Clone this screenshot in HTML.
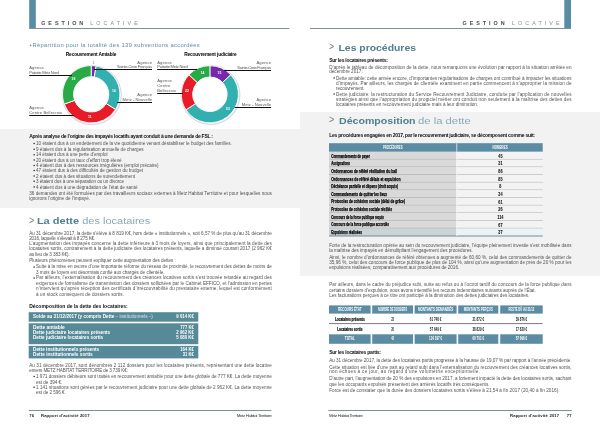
<!DOCTYPE html>
<html><head><meta charset="utf-8"><title>Gestion locative</title>
<style>
html,body{margin:0;padding:0;background:#fff;}
body{width:600px;height:424px;overflow:hidden;}
svg{display:block;will-change:transform;font-family:"Liberation Sans",sans-serif;}
</style></head>
<body>
<svg xmlns="http://www.w3.org/2000/svg" width="600" height="424" viewBox="0 0 600 424" fill="#525252">
<rect width="600" height="424" fill="#fff"/>
<rect x="0.00" y="129.00" width="300.00" height="79.00" fill="#f2f2f2"/>
<rect x="300.00" y="112.00" width="300.00" height="164.00" fill="#f2f2f2"/>
<rect x="29.20" y="0.00" width="6.60" height="28.60" fill="#588ca2"/>
<rect x="564.30" y="0.00" width="6.70" height="28.60" fill="#588ca2"/>
<line x1="29.20" y1="28.50" x2="289.40" y2="28.50" stroke="#7f9095" stroke-width="1"/>
<line x1="310.00" y1="28.50" x2="571.00" y2="28.50" stroke="#7f9095" stroke-width="1"/>
<text x="41.20" y="24.60" font-size="5.4" fill="#4a4a4a" font-weight="bold" textLength="42.00" lengthAdjust="spacing">GESTION</text>
<text x="90.20" y="24.60" font-size="5.4" fill="#8c8c8c" textLength="47.60" lengthAdjust="spacing">LOCATIVE</text>
<text x="462.60" y="24.60" font-size="5.4" fill="#4a4a4a" font-weight="bold" textLength="42.00" lengthAdjust="spacing">GESTION</text>
<text x="512.00" y="24.60" font-size="5.4" fill="#8c8c8c" textLength="47.60" lengthAdjust="spacing">LOCATIVE</text>
<circle cx="30.6" cy="45.3" r="0.85" fill="#5b8ca3"/>
<text x="32.50" y="47.20" font-size="5.8" fill="#5b8ca3" textLength="167.20" lengthAdjust="spacing">Répartition pour la totalité des 139 subventions accordées</text>
<text x="65.80" y="55.80" font-size="4.8" fill="#000" font-weight="bold" textLength="50.50" lengthAdjust="spacing">Recouvrement Amiable</text>
<text x="184.20" y="55.80" font-size="4.8" fill="#000" font-weight="bold" textLength="52.50" lengthAdjust="spacing">Recouvrement judiciaire</text>
<circle cx="91.80" cy="95.10" r="29.40" fill="none" stroke="#dcdce2" stroke-width="1.4"/>
<path d="M91.20,65.60 A28.7,28.7 0 0 1 96.18,66.04 L94.26,76.97 A17.6,17.6 0 0 0 91.20,76.70 Z" fill="#7828aa" stroke="#fff" stroke-width="0.9"/>
<path d="M96.18,66.04 A28.7,28.7 0 0 1 115.54,109.51 L106.13,103.63 A17.6,17.6 0 0 0 94.26,76.97 Z" fill="#32afaf" stroke="#fff" stroke-width="0.9"/>
<path d="M115.54,109.51 A28.7,28.7 0 0 1 64.23,104.12 L74.66,100.32 A17.6,17.6 0 0 0 106.13,103.63 Z" fill="#e81c28" stroke="#fff" stroke-width="0.9"/>
<path d="M64.23,104.12 A28.7,28.7 0 0 1 91.20,65.60 L91.20,76.70 A17.6,17.6 0 0 0 74.66,100.32 Z" fill="#28aa46" stroke="#fff" stroke-width="0.9"/>
<circle cx="91.20" cy="94.30" r="17.40" fill="#fff" stroke="#ececf0" stroke-width="0.6"/>
<circle cx="210.50" cy="95.10" r="29.30" fill="none" stroke="#dcdce2" stroke-width="1.4"/>
<path d="M209.90,65.70 A28.6,28.6 0 0 1 230.82,74.79 L222.48,82.57 A17.2,17.2 0 0 0 209.90,77.10 Z" fill="#7828aa" stroke="#fff" stroke-width="0.9"/>
<path d="M230.82,74.79 A28.6,28.6 0 1 1 185.91,109.88 L195.47,103.67 A17.2,17.2 0 1 0 222.48,82.57 Z" fill="#32afaf" stroke="#fff" stroke-width="0.9"/>
<path d="M185.91,109.88 A28.6,28.6 0 0 1 188.98,74.79 L197.32,82.57 A17.2,17.2 0 0 0 195.47,103.67 Z" fill="#e81c28" stroke="#fff" stroke-width="0.9"/>
<path d="M188.98,74.79 A28.6,28.6 0 0 1 209.90,65.70 L209.90,77.10 A17.2,17.2 0 0 0 197.32,82.57 Z" fill="#28aa46" stroke="#fff" stroke-width="0.9"/>
<circle cx="209.90" cy="94.30" r="17.00" fill="#fff" stroke="#ececf0" stroke-width="0.6"/>
<text x="93.50" y="63.60" font-size="3.4" fill="#666" text-anchor="middle">1</text>
<text x="73.50" y="79.60" font-size="3.4" fill="#fff" font-weight="bold" text-anchor="middle">18</text>
<text x="114.00" y="91.90" font-size="3.4" fill="#fff" font-weight="bold" text-anchor="middle">16</text>
<text x="89.90" y="117.60" font-size="3.4" fill="#fff" font-weight="bold" text-anchor="middle">11</text>
<text x="219.50" y="73.50" font-size="3.4" fill="#fff" font-weight="bold" text-anchor="middle">15</text>
<text x="227.90" y="110.00" font-size="3.4" fill="#fff" font-weight="bold" text-anchor="middle">53</text>
<text x="187.00" y="91.60" font-size="3.4" fill="#fff" font-weight="bold" text-anchor="middle">22</text>
<text x="202.60" y="73.80" font-size="3.4" fill="#fff" font-weight="bold" text-anchor="middle">14</text>
<text x="29.20" y="69.00" font-size="4.1" fill="#555555" textLength="14.70" lengthAdjust="spacing">Agence</text>
<text x="29.20" y="73.60" font-size="4.1" fill="#555555" textLength="29.70" lengthAdjust="spacing">Patrotte Metz Nord</text>
<line x1="29.20" y1="75.50" x2="72.00" y2="75.50" stroke="#111" stroke-width="1"/>
<text x="137.30" y="63.80" font-size="4.1" fill="#555555" textLength="14.70" lengthAdjust="spacing">Agence</text>
<text x="117.00" y="67.50" font-size="4.1" fill="#555555" textLength="35.00" lengthAdjust="spacing">Sainte-Croix Français</text>
<line x1="94.00" y1="69.50" x2="152.00" y2="69.50" stroke="#111" stroke-width="1"/>
<text x="137.30" y="95.70" font-size="4.1" fill="#555555" textLength="14.70" lengthAdjust="spacing">Agence</text>
<text x="122.60" y="100.60" font-size="4.1" fill="#555555" textLength="29.40" lengthAdjust="spacing">Metz - Nouvelle</text>
<line x1="117.20" y1="102.50" x2="152.00" y2="102.50" stroke="#111" stroke-width="1"/>
<text x="29.20" y="108.80" font-size="4.1" fill="#555555" textLength="14.70" lengthAdjust="spacing">Agence</text>
<text x="29.20" y="113.70" font-size="4.1" fill="#555555" textLength="32.90" lengthAdjust="spacing">Centre Bellecroix</text>
<line x1="29.20" y1="115.50" x2="74.00" y2="115.50" stroke="#111" stroke-width="1"/>
<text x="157.20" y="64.00" font-size="4.1" fill="#555555" textLength="14.70" lengthAdjust="spacing">Agence</text>
<text x="157.20" y="68.30" font-size="4.1" fill="#555555" textLength="30.50" lengthAdjust="spacing">Patrotte Metz Nord</text>
<line x1="157.20" y1="69.50" x2="197.00" y2="69.50" stroke="#111" stroke-width="1"/>
<text x="157.20" y="82.40" font-size="4.1" fill="#555555" textLength="14.70" lengthAdjust="spacing">Agence</text>
<text x="157.20" y="87.30" font-size="4.1" fill="#555555" textLength="13.00" lengthAdjust="spacing">Centre</text>
<text x="157.20" y="91.60" font-size="4.1" fill="#555555" textLength="18.80" lengthAdjust="spacing">Bellecroix</text>
<line x1="157.20" y1="93.50" x2="183.00" y2="93.50" stroke="#111" stroke-width="1"/>
<text x="256.40" y="63.80" font-size="4.1" fill="#555555" textLength="14.70" lengthAdjust="spacing">Agence</text>
<text x="237.30" y="68.70" font-size="4.1" fill="#555555" textLength="33.80" lengthAdjust="spacing">Sainte-Croix Français</text>
<line x1="224.00" y1="70.50" x2="271.10" y2="70.50" stroke="#111" stroke-width="1"/>
<text x="256.40" y="101.00" font-size="4.1" fill="#555555" textLength="14.70" lengthAdjust="spacing">Agence</text>
<text x="241.80" y="105.60" font-size="4.1" fill="#555555" textLength="29.30" lengthAdjust="spacing">Metz - Nouvelle</text>
<line x1="234.80" y1="107.50" x2="271.10" y2="107.50" stroke="#111" stroke-width="1"/>
<text x="29.20" y="138.00" font-size="5.0" fill="#111" font-weight="bold" textLength="183.80" lengthAdjust="spacing">Après analyse de l’origine des impayés locatifs ayant conduit à une demande de FSL :</text>
<circle cx="34.10" cy="143.50" r="0.75" fill="#222"/>
<text x="36.00" y="145.00" font-size="4.6" textLength="195.70" lengthAdjust="spacing">10 étaient dus à un endettement de la vie quotidienne venant déstabiliser le budget des familles.</text>
<circle cx="34.10" cy="149.20" r="0.75" fill="#222"/>
<text x="36.00" y="150.70" font-size="4.6" textLength="107.50" lengthAdjust="spacing">9 étaient dus à la régularisation annuelle de charges</text>
<circle cx="34.10" cy="154.70" r="0.75" fill="#222"/>
<text x="36.00" y="156.20" font-size="4.6" textLength="71.50" lengthAdjust="spacing">14 étaient dus à une perte d’emploi</text>
<circle cx="34.10" cy="160.00" r="0.75" fill="#222"/>
<text x="36.00" y="161.50" font-size="4.6" textLength="85.50" lengthAdjust="spacing">20 étaient dus à un taux d’effort trop élevé</text>
<circle cx="34.10" cy="165.50" r="0.75" fill="#222"/>
<text x="36.00" y="167.00" font-size="4.6" textLength="122.50" lengthAdjust="spacing">4 étaient dus à des ressources irrégulières (emploi précaire)</text>
<circle cx="34.10" cy="170.50" r="0.75" fill="#222"/>
<text x="36.00" y="172.00" font-size="4.6" textLength="107.00" lengthAdjust="spacing">47 étaient dus à des difficultés de gestion du budget</text>
<circle cx="34.10" cy="176.00" r="0.75" fill="#222"/>
<text x="36.00" y="177.50" font-size="4.6" textLength="99.00" lengthAdjust="spacing">2 étaient dus à des situations de surendettement</text>
<circle cx="34.10" cy="181.20" r="0.75" fill="#222"/>
<text x="36.00" y="182.70" font-size="4.6" textLength="88.00" lengthAdjust="spacing">3 étaient dus à une séparation ou un divorce</text>
<circle cx="34.10" cy="187.00" r="0.75" fill="#222"/>
<text x="36.00" y="188.50" font-size="4.6" textLength="101.50" lengthAdjust="spacing">4 étaient dus à une dégradation de l’état de santé</text>
<text x="29.20" y="195.30" font-size="4.6" textLength="242.60" lengthAdjust="spacing">36 demandes ont été formulées par des travailleurs sociaux externes à Metz Habitat Territoire et pour lesquelles nous</text>
<text x="29.20" y="200.40" font-size="4.6" textLength="60.80" lengthAdjust="spacing">ignorons l’origine de l’impayé.</text>
<text x="28.90" y="223.60" font-size="10.4" fill="#7a7a7a" textLength="5.20" lengthAdjust="spacingAndGlyphs">&gt;</text>
<text x="36.9" y="223.9" font-size="9.7" textLength="113.3" lengthAdjust="spacingAndGlyphs"><tspan font-weight="bold" fill="#4e7f91">La dette</tspan><tspan fill="#86a9b8"> des locataires</tspan></text>
<text x="29.20" y="234.80" font-size="4.6" textLength="242.60" lengthAdjust="spacing">Au 31 décembre 2017, la dette s’élève à 8 819 K€, hors dette « institutionnels », soit 6,57 % de plus qu’au 31 décembre</text>
<text x="29.20" y="239.60" font-size="4.6" textLength="66.10" lengthAdjust="spacing">2016, laquelle s’élevait à 8 275 K€.</text>
<text x="29.20" y="245.40" font-size="4.6" textLength="242.60" lengthAdjust="spacing">L’augmentation des impayés concerne la dette inférieure à 3 mois de loyers, ainsi que principalement la dette des</text>
<text x="29.20" y="250.30" font-size="4.6" textLength="242.60" lengthAdjust="spacing">locataires sortis, contrairement à la dette judiciaire des locataires présents, laquelle a diminué courant 2017 (2 962 K€</text>
<text x="29.20" y="256.40" font-size="4.6" textLength="40.50" lengthAdjust="spacing">au lieu de 3 383 K€).</text>
<text x="29.20" y="262.40" font-size="4.6" textLength="146.50" lengthAdjust="spacing">Plusieurs phénomènes peuvent expliquer cette augmentation des dettes :</text>
<circle cx="34.10" cy="266.90" r="0.75" fill="#222"/>
<text x="36.00" y="268.40" font-size="4.6" textLength="235.80" lengthAdjust="spacing">Suite à la mise en œuvre d’une importante réforme du réseau de proximité, le recouvrement des dettes de moins de</text>
<text x="36.00" y="273.50" font-size="4.6" textLength="128.50" lengthAdjust="spacing">3 mois de loyers est désormais confié aux chargés de clientèle.</text>
<circle cx="34.10" cy="277.90" r="0.75" fill="#222"/>
<text x="36.00" y="279.40" font-size="4.6" textLength="235.80" lengthAdjust="spacing">Par ailleurs, l’externalisation du recouvrement des créances locatives sortis s’est trouvée retardée au regard des</text>
<text x="36.00" y="284.60" font-size="4.6" textLength="235.80" lengthAdjust="spacing">exigences de formalisme de transmission des dossiers sollicitées par le Cabinet EFFICO, et l’admission en pertes</text>
<text x="36.00" y="290.20" font-size="4.6" textLength="235.80" lengthAdjust="spacing">n’intervient qu’après réception des certificats d’irrécouvrabilité du prestataire externe, lequel est conformément</text>
<text x="36.00" y="295.50" font-size="4.6" textLength="88.00" lengthAdjust="spacing">à un stock conséquent de dossiers sortis.</text>
<text x="29.20" y="307.60" font-size="5.0" fill="#111" font-weight="bold" textLength="98.50" lengthAdjust="spacing">Décomposition de la dette des locataires:</text>
<rect x="28.70" y="312.20" width="169.60" height="9.50" fill="#568a98"/>
<rect x="28.70" y="323.30" width="169.60" height="20.90" fill="#568a98"/>
<rect x="28.70" y="345.90" width="169.60" height="12.50" fill="#568a98"/>
<text x="33" y="318.1" font-size="4.7" fill="#fff" textLength="119.9" lengthAdjust="spacingAndGlyphs"><tspan font-weight="bold">Solde au 31/12/2017 (y compris Dette</tspan><tspan fill="#d5e4ea"> – institutionnels –)</tspan></text>
<text x="193.80" y="318.10" font-size="4.6" fill="#ffffff" font-weight="bold" textLength="17.50" lengthAdjust="spacingAndGlyphs" text-anchor="end">9 014 K€</text>
<text x="33.00" y="329.00" font-size="4.7" fill="#ffffff" font-weight="bold" textLength="31.70" lengthAdjust="spacingAndGlyphs">Dette amiable</text>
<text x="193.80" y="329.00" font-size="4.6" fill="#ffffff" font-weight="bold" textLength="13.50" lengthAdjust="spacingAndGlyphs" text-anchor="end">777 K€</text>
<text x="33.00" y="334.20" font-size="4.7" fill="#ffffff" font-weight="bold" textLength="77.20" lengthAdjust="spacingAndGlyphs">Dette judiciaire locataires présents</text>
<text x="193.80" y="334.20" font-size="4.6" fill="#ffffff" font-weight="bold" textLength="17.50" lengthAdjust="spacingAndGlyphs" text-anchor="end">2 962 K€</text>
<text x="33.00" y="339.30" font-size="4.7" fill="#ffffff" font-weight="bold" textLength="70.20" lengthAdjust="spacingAndGlyphs">Dette judiciaire locataires sortis</text>
<text x="193.80" y="339.30" font-size="4.6" fill="#ffffff" font-weight="bold" textLength="17.50" lengthAdjust="spacingAndGlyphs" text-anchor="end">5 080 K€</text>
<text x="33.00" y="350.80" font-size="4.7" fill="#ffffff" font-weight="bold" textLength="66.20" lengthAdjust="spacingAndGlyphs">Dette institutionnels présents</text>
<text x="193.80" y="350.80" font-size="4.6" fill="#ffffff" font-weight="bold" textLength="13.50" lengthAdjust="spacingAndGlyphs" text-anchor="end">164 K€</text>
<text x="33.00" y="355.50" font-size="4.7" fill="#ffffff" font-weight="bold" textLength="59.70" lengthAdjust="spacingAndGlyphs">Dette institutionnels sortis</text>
<text x="193.80" y="355.50" font-size="4.6" fill="#ffffff" font-weight="bold" textLength="11.00" lengthAdjust="spacingAndGlyphs" text-anchor="end">31 K€</text>
<text x="29.20" y="366.80" font-size="4.6" textLength="242.60" lengthAdjust="spacing">Au 31 décembre 2017, sont dénombrés 2 112 dossiers pour les locataires présents, représentant une dette locative</text>
<text x="29.20" y="372.40" font-size="4.6" textLength="98.80" lengthAdjust="spacing">envers METZ HABITAT TERRITOIRE de 3 739 K€:</text>
<circle cx="34.10" cy="376.50" r="0.75" fill="#222"/>
<text x="36.00" y="378.00" font-size="4.6" textLength="235.80" lengthAdjust="spacing">1 971 dossiers débiteurs sont traités en recouvrement amiable pour une dette globale de 777 K€. La dette moyenne</text>
<text x="36.00" y="383.50" font-size="4.6" textLength="26.30" lengthAdjust="spacing">est de 394 €.</text>
<circle cx="34.10" cy="387.30" r="0.75" fill="#222"/>
<text x="36.00" y="388.80" font-size="4.6" textLength="235.80" lengthAdjust="spacing">1 141 situations sont gérées par le recouvrement judiciaire pour une dette globale de 2 962 K€. La dette moyenne</text>
<text x="36.00" y="394.40" font-size="4.6" textLength="29.80" lengthAdjust="spacing">est de 2 596 €.</text>
<line x1="28.70" y1="410.50" x2="271.30" y2="410.50" stroke="#7a9296" stroke-width="1"/>
<text x="29.30" y="416.90" font-size="4.2" fill="#222" font-weight="bold">76</text>
<text x="41.00" y="416.90" font-size="4.2" fill="#222" font-weight="bold" textLength="48.60" lengthAdjust="spacing">Rapport d’activité 2017</text>
<text x="236.70" y="416.90" font-size="4.4" fill="#333" textLength="35.30" lengthAdjust="spacing">Metz Habitat Territoire</text>
<text x="329.00" y="50.30" font-size="10.4" fill="#7a7a7a" textLength="5.20" lengthAdjust="spacingAndGlyphs">&gt;</text>
<text x="338.50" y="50.60" font-size="9.7" fill="#4e7f91" font-weight="bold" textLength="77.50" lengthAdjust="spacingAndGlyphs">Les procédures</text>
<text x="329.20" y="61.80" font-size="5.0" fill="#111" font-weight="bold" textLength="58.70" lengthAdjust="spacing">Sur les locataires présents:</text>
<text x="329.20" y="68.50" font-size="4.6" textLength="242.30" lengthAdjust="spacing">D’après le tableau de décomposition de la dette, nous remarquons une évolution par rapport à la situation arrêtée en</text>
<text x="329.20" y="73.40" font-size="4.6" textLength="33.50" lengthAdjust="spacing">décembre 2017:</text>
<circle cx="334.10" cy="78.00" r="0.75" fill="#222"/>
<text x="336.00" y="79.50" font-size="4.6" textLength="235.50" lengthAdjust="spacing">Dette amiable: cette année encore, d’importantes régularisations de charges ont contribué à impacter les situations</text>
<text x="336.00" y="84.60" font-size="4.6" textLength="235.50" lengthAdjust="spacing">d’impayés. Par ailleurs, les chargés de clientèle examinent en partie commencent à s’approprier la mission de</text>
<text x="336.00" y="89.50" font-size="4.6" textLength="28.50" lengthAdjust="spacing">recouvrement.</text>
<circle cx="334.10" cy="94.00" r="0.75" fill="#222"/>
<text x="336.00" y="95.50" font-size="4.6" textLength="235.50" lengthAdjust="spacing">Dette judiciaire: la restructuration du Service Recouvrement Judiciaire, conduite par l’application de nouvelles</text>
<text x="336.00" y="100.80" font-size="4.6" textLength="235.50" lengthAdjust="spacing">stratégies ainsi que l’appropriation du progiciel métier ont conduit non seulement à la maîtrise des dettes des</text>
<text x="336.00" y="106.40" font-size="4.6" textLength="142.20" lengthAdjust="spacing">locataires présents en recouvrement judiciaire mais à leur diminution.</text>
<text x="329.00" y="123.20" font-size="10.4" fill="#7a7a7a" textLength="5.20" lengthAdjust="spacingAndGlyphs">&gt;</text>
<text x="339.00" y="123.50" font-size="9.7" fill="#4e7f91" font-weight="bold" textLength="76.60" lengthAdjust="spacingAndGlyphs">Décomposition</text>
<text x="418.00" y="123.50" font-size="9.7" fill="#86a9b8" textLength="52.70" lengthAdjust="spacingAndGlyphs">de la dette</text>
<text x="329.20" y="136.80" font-size="5.0" fill="#111" font-weight="bold" textLength="205.80" lengthAdjust="spacing">Les procédures engagées en 2017, par le recouvrement judiciaire, se décomposent comme suit:</text>
<rect x="329.00" y="143.20" width="213.70" height="8.60" fill="#5b8ca3"/>
<line x1="456.80" y1="143.20" x2="456.80" y2="151.80" stroke="#fff" stroke-width="0.7"/>
<text x="392.70" y="149.00" font-size="4.5" fill="#fff" font-weight="bold" textLength="19.60" lengthAdjust="spacingAndGlyphs" text-anchor="middle">PROCÉDURES</text>
<text x="500.10" y="149.00" font-size="4.5" fill="#fff" font-weight="bold" textLength="15.20" lengthAdjust="spacingAndGlyphs" text-anchor="middle">NOMBRES</text>
<rect x="329.00" y="151.80" width="127.80" height="7.65" fill="#d9d9d9"/>
<rect x="456.80" y="151.80" width="85.90" height="7.65" fill="#f3f3f3"/>
<line x1="329.00" y1="159.45" x2="542.70" y2="159.45" stroke="#9c9c9c" stroke-width="0.8"/>
<text x="331.20" y="157.55" font-size="5.0" fill="#000" font-weight="bold" textLength="38.80" lengthAdjust="spacingAndGlyphs" stroke="#000" stroke-width="0.25">Commandements de payer</text>
<text x="500.40" y="157.75" font-size="4.5" fill="#111" font-weight="bold" textLength="4.20" lengthAdjust="spacingAndGlyphs" text-anchor="middle" stroke="#111" stroke-width="0.06">45</text>
<rect x="329.00" y="159.45" width="127.80" height="7.65" fill="#d9d9d9"/>
<rect x="456.80" y="159.45" width="85.90" height="7.65" fill="#f3f3f3"/>
<line x1="329.00" y1="167.11" x2="542.70" y2="167.11" stroke="#9c9c9c" stroke-width="0.8"/>
<text x="331.20" y="165.21" font-size="5.0" fill="#000" font-weight="bold" textLength="18.80" lengthAdjust="spacingAndGlyphs" stroke="#000" stroke-width="0.25">Assignations</text>
<text x="500.40" y="165.41" font-size="4.5" fill="#111" font-weight="bold" textLength="4.20" lengthAdjust="spacingAndGlyphs" text-anchor="middle" stroke="#111" stroke-width="0.06">31</text>
<rect x="329.00" y="167.11" width="127.80" height="7.65" fill="#d9d9d9"/>
<rect x="456.80" y="167.11" width="85.90" height="7.65" fill="#f3f3f3"/>
<line x1="329.00" y1="174.76" x2="542.70" y2="174.76" stroke="#9c9c9c" stroke-width="0.8"/>
<text x="331.20" y="172.86" font-size="5.0" fill="#000" font-weight="bold" textLength="65.80" lengthAdjust="spacingAndGlyphs" stroke="#000" stroke-width="0.25">Ordonnances de référé résiliation du bail</text>
<text x="500.40" y="173.06" font-size="4.5" fill="#111" font-weight="bold" textLength="4.20" lengthAdjust="spacingAndGlyphs" text-anchor="middle" stroke="#111" stroke-width="0.06">86</text>
<rect x="329.00" y="174.76" width="127.80" height="7.65" fill="#d9d9d9"/>
<rect x="456.80" y="174.76" width="85.90" height="7.65" fill="#f3f3f3"/>
<line x1="329.00" y1="182.42" x2="542.70" y2="182.42" stroke="#9c9c9c" stroke-width="0.8"/>
<text x="331.20" y="180.52" font-size="5.0" fill="#000" font-weight="bold" textLength="69.30" lengthAdjust="spacingAndGlyphs" stroke="#000" stroke-width="0.25">Ordonnances de référé délais et expulsion</text>
<text x="500.40" y="180.72" font-size="4.5" fill="#111" font-weight="bold" textLength="4.20" lengthAdjust="spacingAndGlyphs" text-anchor="middle" stroke="#111" stroke-width="0.06">85</text>
<rect x="329.00" y="182.42" width="127.80" height="7.65" fill="#d9d9d9"/>
<rect x="456.80" y="182.42" width="85.90" height="7.65" fill="#f3f3f3"/>
<line x1="329.00" y1="190.07" x2="542.70" y2="190.07" stroke="#9c9c9c" stroke-width="0.8"/>
<text x="331.20" y="188.17" font-size="5.0" fill="#000" font-weight="bold" textLength="66.80" lengthAdjust="spacingAndGlyphs" stroke="#000" stroke-width="0.25">Déchéance partielle et dépens (droit acquis)</text>
<text x="500.40" y="188.37" font-size="4.5" fill="#111" font-weight="bold" textLength="2.10" lengthAdjust="spacingAndGlyphs" text-anchor="middle" stroke="#111" stroke-width="0.06">8</text>
<rect x="329.00" y="190.07" width="127.80" height="7.65" fill="#d9d9d9"/>
<rect x="456.80" y="190.07" width="85.90" height="7.65" fill="#f3f3f3"/>
<line x1="329.00" y1="197.73" x2="542.70" y2="197.73" stroke="#9c9c9c" stroke-width="0.8"/>
<text x="331.20" y="195.83" font-size="5.0" fill="#000" font-weight="bold" textLength="55.80" lengthAdjust="spacingAndGlyphs" stroke="#000" stroke-width="0.25">Commandements de quitter les lieux</text>
<text x="500.40" y="196.03" font-size="4.5" fill="#111" font-weight="bold" textLength="4.20" lengthAdjust="spacingAndGlyphs" text-anchor="middle" stroke="#111" stroke-width="0.06">34</text>
<rect x="329.00" y="197.73" width="127.80" height="7.65" fill="#d9d9d9"/>
<rect x="456.80" y="197.73" width="85.90" height="7.65" fill="#f3f3f3"/>
<line x1="329.00" y1="205.38" x2="542.70" y2="205.38" stroke="#9c9c9c" stroke-width="0.8"/>
<text x="331.20" y="203.48" font-size="5.0" fill="#000" font-weight="bold" textLength="73.80" lengthAdjust="spacingAndGlyphs" stroke="#000" stroke-width="0.25">Protocoles de cohésion sociale (délai de grâce)</text>
<text x="500.40" y="203.68" font-size="4.5" fill="#111" font-weight="bold" textLength="4.20" lengthAdjust="spacingAndGlyphs" text-anchor="middle" stroke="#111" stroke-width="0.06">61</text>
<rect x="329.00" y="205.38" width="127.80" height="7.65" fill="#d9d9d9"/>
<rect x="456.80" y="205.38" width="85.90" height="7.65" fill="#f3f3f3"/>
<line x1="329.00" y1="213.04" x2="542.70" y2="213.04" stroke="#9c9c9c" stroke-width="0.8"/>
<text x="331.20" y="211.14" font-size="5.0" fill="#000" font-weight="bold" textLength="60.80" lengthAdjust="spacingAndGlyphs" stroke="#000" stroke-width="0.25">Protocoles de cohésion sociale résiliés</text>
<text x="500.40" y="211.34" font-size="4.5" fill="#111" font-weight="bold" textLength="4.20" lengthAdjust="spacingAndGlyphs" text-anchor="middle" stroke="#111" stroke-width="0.06">26</text>
<rect x="329.00" y="213.04" width="127.80" height="7.65" fill="#d9d9d9"/>
<rect x="456.80" y="213.04" width="85.90" height="7.65" fill="#f3f3f3"/>
<line x1="329.00" y1="220.69" x2="542.70" y2="220.69" stroke="#9c9c9c" stroke-width="0.8"/>
<text x="331.20" y="218.79" font-size="5.0" fill="#000" font-weight="bold" textLength="52.80" lengthAdjust="spacingAndGlyphs" stroke="#000" stroke-width="0.25">Concours de la force publique requis</text>
<text x="500.40" y="218.99" font-size="4.5" fill="#111" font-weight="bold" textLength="6.30" lengthAdjust="spacingAndGlyphs" text-anchor="middle" stroke="#111" stroke-width="0.06">114</text>
<rect x="329.00" y="220.69" width="127.80" height="7.65" fill="#d9d9d9"/>
<rect x="456.80" y="220.69" width="85.90" height="7.65" fill="#f3f3f3"/>
<line x1="329.00" y1="228.35" x2="542.70" y2="228.35" stroke="#9c9c9c" stroke-width="0.8"/>
<text x="331.20" y="226.45" font-size="5.0" fill="#000" font-weight="bold" textLength="57.80" lengthAdjust="spacingAndGlyphs" stroke="#000" stroke-width="0.25">Concours de la force publique accordés</text>
<text x="500.40" y="226.65" font-size="4.5" fill="#111" font-weight="bold" textLength="4.20" lengthAdjust="spacingAndGlyphs" text-anchor="middle" stroke="#111" stroke-width="0.06">67</text>
<rect x="329.00" y="228.35" width="127.80" height="7.65" fill="#ccd3d5"/>
<rect x="456.80" y="228.35" width="85.90" height="7.65" fill="#edf3f5"/>
<line x1="329.00" y1="236.00" x2="542.70" y2="236.00" stroke="#5f848e" stroke-width="0.9"/>
<text x="331.20" y="234.10" font-size="5.0" fill="#000" font-weight="bold" textLength="30.80" lengthAdjust="spacingAndGlyphs" stroke="#000" stroke-width="0.25">Expulsions réalisées</text>
<text x="500.40" y="234.30" font-size="4.5" fill="#111" font-weight="bold" textLength="4.20" lengthAdjust="spacingAndGlyphs" text-anchor="middle" stroke="#111" stroke-width="0.06">37</text>
<line x1="456.80" y1="151.80" x2="456.80" y2="236.00" stroke="#fff" stroke-width="0.7"/>
<text x="329.20" y="246.50" font-size="4.6" textLength="242.30" lengthAdjust="spacing">Forte de la restructuration opérée au sein du recouvrement judiciaire, l’équipe pleinement investie s’est mobilisée dans</text>
<text x="329.20" y="251.50" font-size="4.6" textLength="143.60" lengthAdjust="spacing">la maîtrise des impayés en démultipliant l’engagement des procédures.</text>
<text x="329.20" y="258.50" font-size="4.6" textLength="242.30" lengthAdjust="spacing">Ainsi, le nombre d’ordonnances de référé obtenues a augmenté de 60,60 %, celui des commandements de quitter de</text>
<text x="329.20" y="263.50" font-size="4.6" textLength="242.30" lengthAdjust="spacing">35,96 %, celui des concours de force publique de plus de 104 %, ainsi qu’une augmentation de près de 20 % pour les</text>
<text x="329.20" y="269.40" font-size="4.6" textLength="130.00" lengthAdjust="spacing">expulsions réalisées, comparativement aux procédures de 2016.</text>
<text x="329.20" y="285.80" font-size="4.6" textLength="242.30" lengthAdjust="spacing">Par ailleurs, dans le cadre du préjudice subi, suite au refus ou à l’octroi tardif du concours de la force publique dans</text>
<text x="329.20" y="291.50" font-size="4.6" textLength="206.60" lengthAdjust="spacing">certains dossiers d’expulsion, nous avons intensifié les recours indemnitaires suivants auprès de l’État.</text>
<text x="329.20" y="297.20" font-size="4.6" textLength="200.10" lengthAdjust="spacing">Les facturations perçues à ce titre ont participé à la diminution des dettes judiciaires des locataires.</text>
<rect x="329.00" y="305.40" width="41.60" height="8.20" fill="#5b8ca3"/>
<rect x="329.00" y="334.30" width="41.60" height="9.50" fill="#5b8ca3"/>
<text x="349.80" y="311.00" font-size="4.7" fill="#fff" font-weight="bold" textLength="23.40" lengthAdjust="spacingAndGlyphs" text-anchor="middle">RECOURS ÉTAT</text>
<text x="349.80" y="320.80" font-size="4.8" fill="#000" font-weight="bold" textLength="29.70" lengthAdjust="spacingAndGlyphs" text-anchor="middle" stroke="#000" stroke-width="0.2">Locataires présents</text>
<text x="349.80" y="330.60" font-size="4.8" fill="#000" font-weight="bold" textLength="25.20" lengthAdjust="spacingAndGlyphs" text-anchor="middle" stroke="#000" stroke-width="0.2">Locataires sortis</text>
<text x="349.80" y="340.40" font-size="4.6" fill="#fff" font-weight="bold" textLength="10.00" lengthAdjust="spacingAndGlyphs" text-anchor="middle">TOTAL</text>
<rect x="372.20" y="305.40" width="40.80" height="8.20" fill="#5b8ca3"/>
<rect x="372.20" y="334.30" width="40.80" height="9.50" fill="#5b8ca3"/>
<text x="392.60" y="311.00" font-size="4.7" fill="#fff" font-weight="bold" textLength="29.00" lengthAdjust="spacingAndGlyphs" text-anchor="middle">NOMBRE DE DOSSIERS</text>
<text x="392.60" y="320.80" font-size="4.6" fill="#222" font-weight="bold" textLength="2.90" lengthAdjust="spacingAndGlyphs" text-anchor="middle">23</text>
<text x="392.60" y="330.60" font-size="4.6" fill="#222" font-weight="bold" textLength="2.90" lengthAdjust="spacingAndGlyphs" text-anchor="middle">20</text>
<text x="392.60" y="340.40" font-size="4.6" fill="#fff" font-weight="bold" textLength="2.90" lengthAdjust="spacingAndGlyphs" text-anchor="middle">43</text>
<rect x="414.60" y="305.40" width="42.00" height="8.20" fill="#5b8ca3"/>
<rect x="414.60" y="334.30" width="42.00" height="9.50" fill="#5b8ca3"/>
<text x="435.60" y="311.00" font-size="4.7" fill="#fff" font-weight="bold" textLength="35.40" lengthAdjust="spacingAndGlyphs" text-anchor="middle">MONTANTS DEMANDÉS</text>
<text x="435.60" y="320.80" font-size="4.6" fill="#222" font-weight="bold" textLength="11.60" lengthAdjust="spacingAndGlyphs" text-anchor="middle">61 748 €</text>
<text x="435.60" y="330.60" font-size="4.6" fill="#222" font-weight="bold" textLength="11.60" lengthAdjust="spacingAndGlyphs" text-anchor="middle">57 649 €</text>
<text x="435.60" y="340.40" font-size="4.6" fill="#fff" font-weight="bold" textLength="13.05" lengthAdjust="spacingAndGlyphs" text-anchor="middle">124 397 €</text>
<rect x="458.20" y="305.40" width="40.10" height="8.20" fill="#5b8ca3"/>
<rect x="458.20" y="334.30" width="40.10" height="9.50" fill="#5b8ca3"/>
<text x="478.25" y="311.00" font-size="4.7" fill="#fff" font-weight="bold" textLength="29.20" lengthAdjust="spacingAndGlyphs" text-anchor="middle">MONTANTS PERÇUS</text>
<text x="478.25" y="320.80" font-size="4.6" fill="#222" font-weight="bold" textLength="11.60" lengthAdjust="spacingAndGlyphs" text-anchor="middle">21 872 €</text>
<text x="478.25" y="330.60" font-size="4.6" fill="#222" font-weight="bold" textLength="11.60" lengthAdjust="spacingAndGlyphs" text-anchor="middle">38 829 €</text>
<text x="478.25" y="340.40" font-size="4.6" fill="#fff" font-weight="bold" textLength="11.60" lengthAdjust="spacingAndGlyphs" text-anchor="middle">60 701 €</text>
<rect x="500.20" y="305.40" width="42.50" height="8.20" fill="#5b8ca3"/>
<rect x="500.20" y="334.30" width="42.50" height="9.50" fill="#5b8ca3"/>
<text x="521.45" y="311.00" font-size="4.7" fill="#fff" font-weight="bold" textLength="25.70" lengthAdjust="spacingAndGlyphs" text-anchor="middle">RESTE DÛ AU 31/12</text>
<text x="521.45" y="320.80" font-size="4.6" fill="#222" font-weight="bold" textLength="11.60" lengthAdjust="spacingAndGlyphs" text-anchor="middle">39 876 €</text>
<text x="521.45" y="330.60" font-size="4.6" fill="#222" font-weight="bold" textLength="11.60" lengthAdjust="spacingAndGlyphs" text-anchor="middle">17 820 €</text>
<text x="521.45" y="340.40" font-size="4.6" fill="#fff" font-weight="bold" textLength="11.60" lengthAdjust="spacingAndGlyphs" text-anchor="middle">57 696 €</text>
<line x1="329.00" y1="323.60" x2="542.70" y2="323.60" stroke="#222" stroke-width="0.6"/>
<text x="329.20" y="354.30" font-size="5.0" fill="#111" font-weight="bold" textLength="51.80" lengthAdjust="spacing">Sur les locataires partis:</text>
<text x="329.20" y="361.50" font-size="4.6" textLength="242.30" lengthAdjust="spacing">Au 31 décembre 2017, la dette des locataires partis progresse à la hausse de 19,07 % par rapport à l’année précédente.</text>
<text x="329.20" y="368.50" font-size="4.6" textLength="242.30" lengthAdjust="spacing">Cette situation est liée d’une part au retard subi dans l’externalisation du recouvrement des créances locatives sortis,</text>
<text x="329.20" y="373.00" font-size="4.6" textLength="150.80" lengthAdjust="spacing">non échues à ce jour, au regard d’une volumétrie exceptionnelle.</text>
<text x="329.20" y="380.00" font-size="4.6" textLength="242.30" lengthAdjust="spacing">D’autre part, l’augmentation de 20 % des expulsions en 2017, a fortement impacté la dette des locataires sortis, sachant</text>
<text x="329.20" y="385.50" font-size="4.6" textLength="160.30" lengthAdjust="spacing">que les occupants expulsés présentent des arriérés locatifs très conséquents.</text>
<text x="329.20" y="392.20" font-size="4.6" textLength="230.30" lengthAdjust="spacing">Force est de constater que la durée des dossiers locataires sortis s’élève à 21,54 à fin 2017 (20,40 à fin 2016).</text>
<line x1="328.30" y1="410.50" x2="571.70" y2="410.50" stroke="#7a9296" stroke-width="1"/>
<text x="329.00" y="416.90" font-size="4.4" fill="#333" textLength="34.00" lengthAdjust="spacing">Metz Habitat Territoire</text>
<text x="510.00" y="416.90" font-size="4.2" fill="#222" font-weight="bold" textLength="49.20" lengthAdjust="spacing">Rapport d’activité 2017</text>
<text x="571.50" y="416.90" font-size="4.2" fill="#222" font-weight="bold" text-anchor="end">77</text>
</svg>
</body></html>
